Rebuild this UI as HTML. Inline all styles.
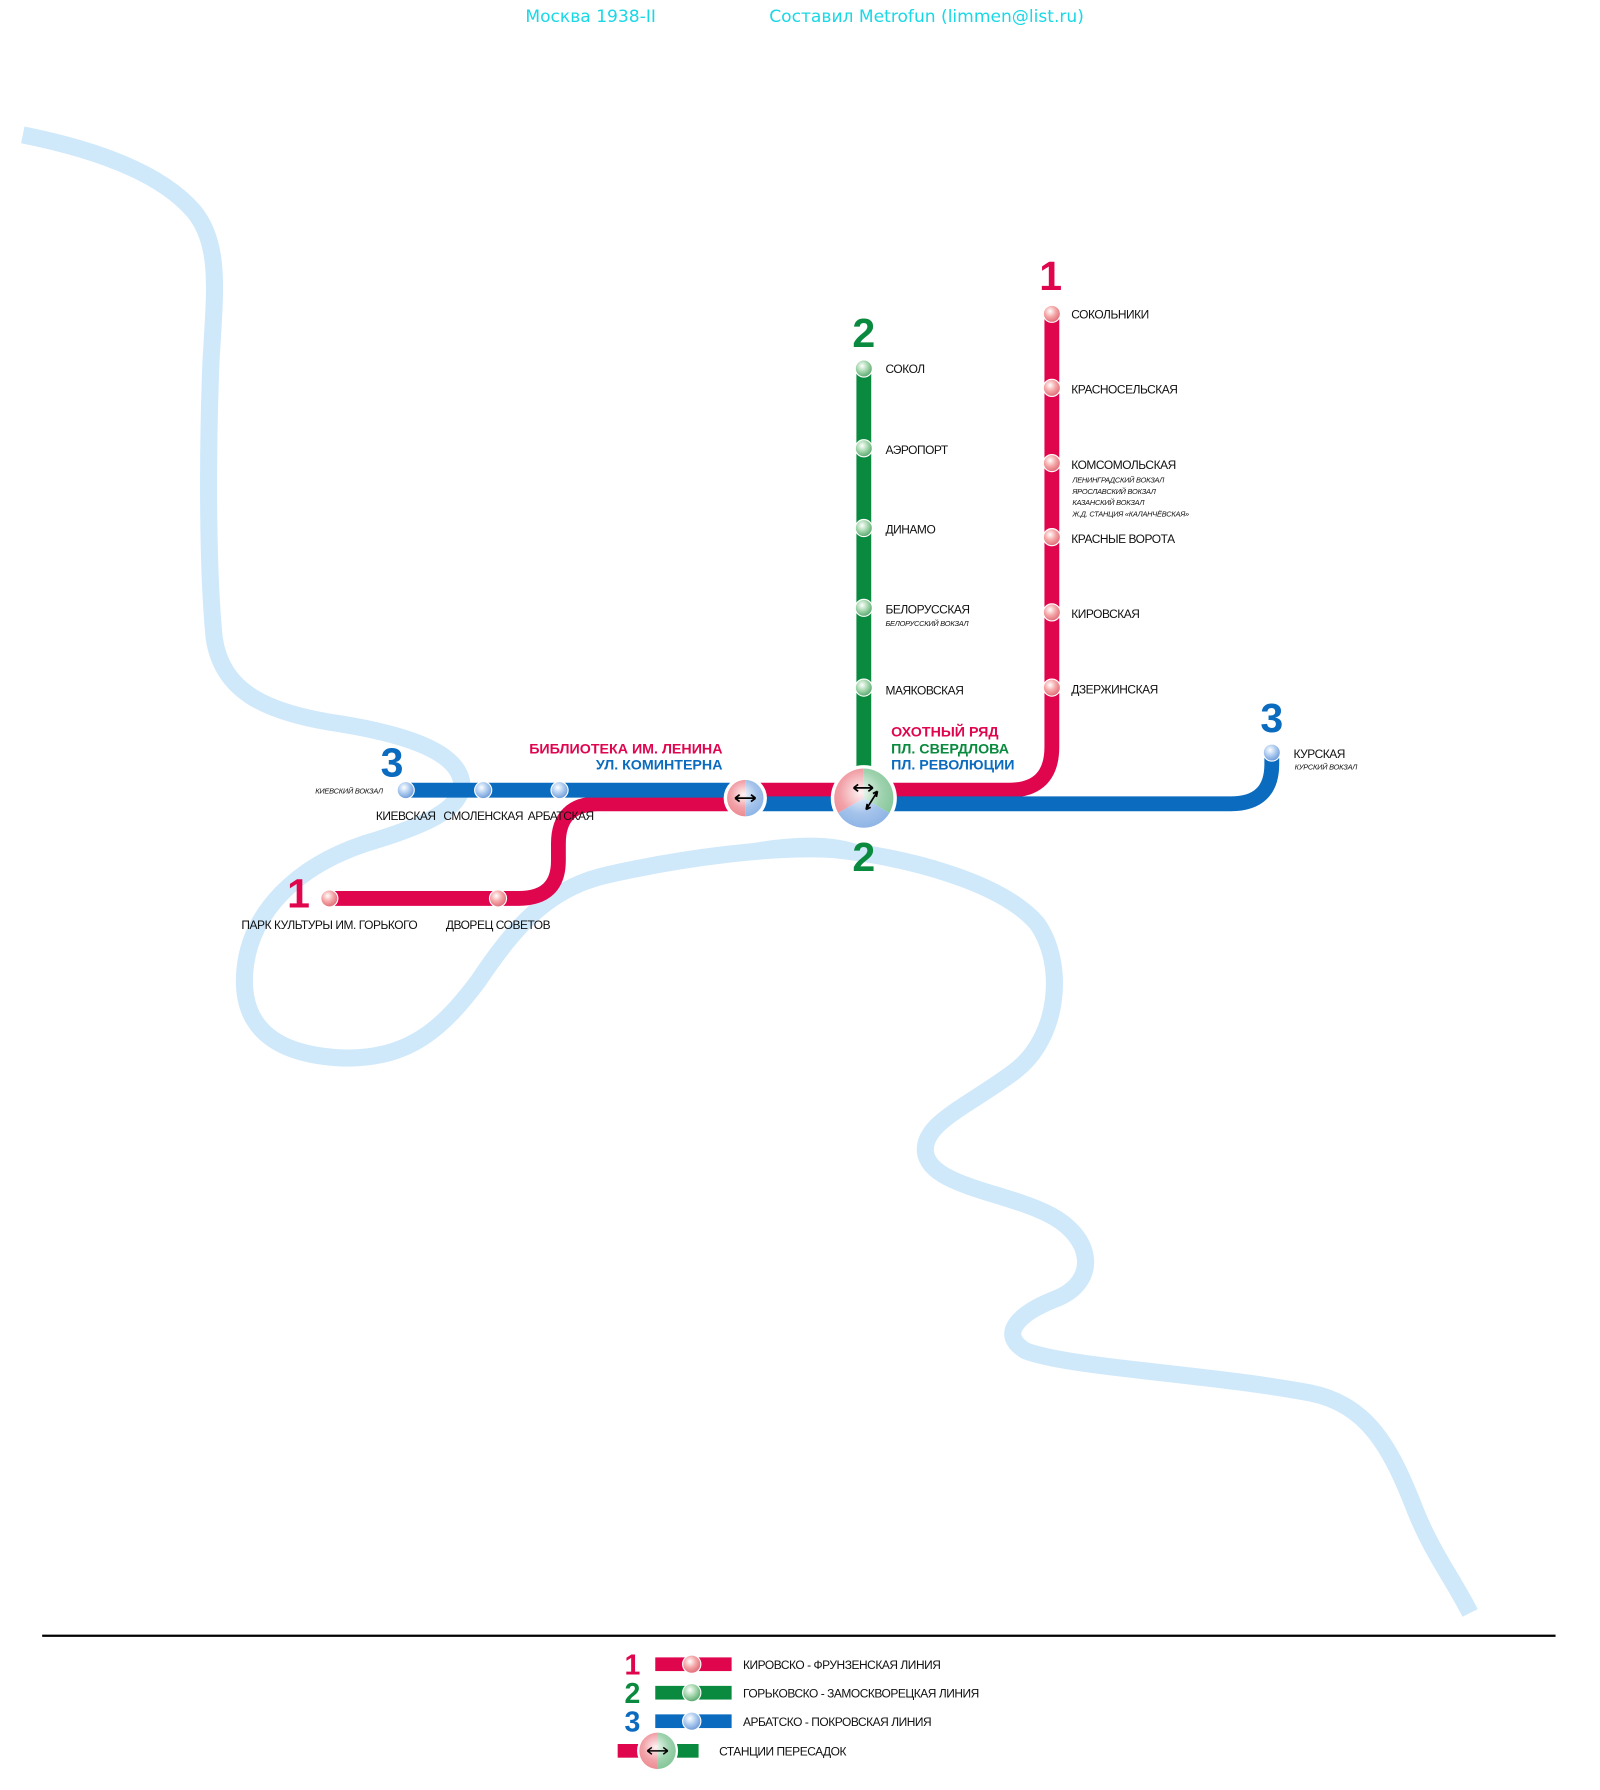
<!DOCTYPE html>
<html><head><meta charset="utf-8"><style>
html,body{margin:0;padding:0;background:#fff;}
svg{display:block}
.st{font-family:"Liberation Sans",sans-serif;font-size:10.5px;letter-spacing:-0.4px;fill:#111;}
.sub{font-family:"Liberation Sans",sans-serif;font-size:6.5px;letter-spacing:-0.2px;font-style:italic;fill:#111;}
.num{font-family:"Liberation Sans",sans-serif;font-weight:bold;font-size:36px;}
.ic{font-family:"Liberation Sans",sans-serif;font-weight:bold;font-size:12.5px;}
.ttl{font-family:"DejaVu Sans","Liberation Sans",sans-serif;font-size:15px;fill:#19d8e6;}
</style></head><body>
<svg width="1600" height="1790" viewBox="0 0 1404 1570" xmlns="http://www.w3.org/2000/svg">
<defs>
<radialGradient id="gr" cx="0.4" cy="0.35" r="0.65"><stop offset="0" stop-color="#fff"/><stop offset="0.5" stop-color="#f5a8a8"/><stop offset="1" stop-color="#e06c78"/></radialGradient>
<radialGradient id="gg" cx="0.4" cy="0.35" r="0.65"><stop offset="0" stop-color="#fff"/><stop offset="0.5" stop-color="#a8d8b0"/><stop offset="1" stop-color="#5aa870"/></radialGradient>
<radialGradient id="gb" cx="0.4" cy="0.35" r="0.65"><stop offset="0" stop-color="#fff"/><stop offset="0.5" stop-color="#b0cdf0"/><stop offset="1" stop-color="#6f9bd8"/></radialGradient>
<radialGradient id="hl" cx="0.45" cy="0.4" r="0.6"><stop offset="0" stop-color="#fff" stop-opacity="0.9"/><stop offset="0.6" stop-color="#fff" stop-opacity="0.2"/><stop offset="1" stop-color="#fff" stop-opacity="0"/></radialGradient>
</defs>
<text class="ttl" x="461" y="19">Москва 1938-II</text>
<text class="ttl" x="675" y="19">Составил Metrofun (limmen@list.ru)</text>

<!-- river -->
<g fill="none" stroke="#cfe9fb" stroke-width="15" stroke-linejoin="round" stroke-linecap="butt">
<path d="M20,118 C80,130 140,150 170,185 C195,215 188,260 185,320 C182,400 182,500 188,560 C195,605 230,625 300,635 C360,645 400,660 405,685 C408,710 370,725 320,740 C260,760 220,800 215,850 C210,900 240,925 300,928 C360,930 390,900 420,860 C450,815 480,780 530,768 C600,752 680,742 730,745 C800,752 880,775 910,810 C935,845 930,910 890,940 C850,970 810,985 812,1010 C815,1040 880,1045 920,1065 C960,1085 965,1125 925,1140 C895,1152 875,1170 900,1185 C940,1200 1060,1205 1150,1222 C1200,1232 1220,1270 1240,1320 C1255,1360 1275,1385 1290,1415"/>
<path d="M650,745 C700,735 740,736 760,748" stroke-width="7"/>
</g>

<!-- line 2 green -->
<path d="M758,323 V700" stroke="#0a8a3e" stroke-width="13" fill="none"/>
<!-- line 1 red -->
<path d="M923,275 V655 Q923,693 885,693 H654" stroke="#e0064e" stroke-width="13" fill="none"/>
<path d="M654,705 H525 Q490,705 490,740 V755 Q490,788 455,788 H289" stroke="#e0064e" stroke-width="13" fill="none"/>
<!-- line 3 blue -->
<path d="M356,693 H654" stroke="#0a6bbf" stroke-width="13" fill="none"/>
<path d="M654,705 H1080 Q1116,705 1116,670 V660" stroke="#0a6bbf" stroke-width="13" fill="none"/>

<!-- stations -->
<g stroke="#fff" stroke-width="1">
<circle cx="758" cy="323" r="7.5" fill="url(#gg)"/>
<circle cx="758" cy="393" r="7.5" fill="url(#gg)"/>
<circle cx="758" cy="463" r="7.5" fill="url(#gg)"/>
<circle cx="758" cy="533" r="7.5" fill="url(#gg)"/>
<circle cx="758" cy="603" r="7.5" fill="url(#gg)"/>
<circle cx="923" cy="275" r="7.5" fill="url(#gr)"/>
<circle cx="923" cy="340" r="7.5" fill="url(#gr)"/>
<circle cx="923" cy="406" r="7.5" fill="url(#gr)"/>
<circle cx="923" cy="471" r="7.5" fill="url(#gr)"/>
<circle cx="923" cy="537" r="7.5" fill="url(#gr)"/>
<circle cx="923" cy="603" r="7.5" fill="url(#gr)"/>
<circle cx="356" cy="693" r="7.5" fill="url(#gb)"/>
<circle cx="424" cy="693" r="7.5" fill="url(#gb)"/>
<circle cx="491" cy="693" r="7.5" fill="url(#gb)"/>
<circle cx="1116" cy="660" r="7.5" fill="url(#gb)"/>
<circle cx="289" cy="788" r="7.5" fill="url(#gr)"/>
<circle cx="437" cy="788" r="7.5" fill="url(#gr)"/>
</g>

<!-- small interchange -->
<circle cx="654" cy="700" r="19" fill="#fff"/>
<path d="M654,684 A16,16 0 0 0 654,716 Z" fill="#ee8a92"/>
<path d="M654,684 A16,16 0 0 1 654,716 Z" fill="#8fb5e6"/>
<circle cx="654" cy="700" r="16" fill="url(#hl)"/>
<path d="M645,700 H663 M645,700 l4,-3 M645,700 l4,3 M663,700 l-4,-3 M663,700 l-4,3" stroke="#000" stroke-width="1.5" fill="none"/>

<!-- big interchange -->
<circle cx="758" cy="700" r="29" fill="#fff"/>
<path d="M758,700 L758,674 A26,26 0 0 0 735.5,713 Z" fill="#ee8a92"/>
<path d="M758,700 L758,674 A26,26 0 0 1 780.5,713 Z" fill="#86c79a"/>
<path d="M758,700 L735.5,713 A26,26 0 0 0 780.5,713 Z" fill="#8fb5e6"/>
<circle cx="758" cy="700" r="26" fill="url(#hl)"/>
<path d="M749,691 H766 M749,691 l4,-3 M749,691 l4,3 M766,691 l-4,-3 M766,691 l-4,3 M770,694 L760,710 M770,694 l-1,5 M770,694 l-4,2 M760,710 l1,-5 M760,710 l4,-2" stroke="#000" stroke-width="1.5" fill="none"/>

<!-- numbers -->
<text class="num" x="758" y="304" text-anchor="middle" fill="#0a8a3e">2</text>
<text class="num" x="758" y="764" text-anchor="middle" fill="#0a8a3e">2</text>
<text class="num" x="922" y="254" text-anchor="middle" fill="#e0064e">1</text>
<text class="num" x="262" y="796" text-anchor="middle" fill="#e0064e">1</text>
<text class="num" x="1116" y="642" text-anchor="middle" fill="#0a6bbf">3</text>
<text class="num" x="344" y="681" text-anchor="middle" fill="#0a6bbf">3</text>

<!-- labels -->
<text class="st" x="777" y="327">СОКОЛ</text>
<text class="st" x="777" y="398">АЭРОПОРТ</text>
<text class="st" x="777" y="468">ДИНАМО</text>
<text class="st" x="777" y="538">БЕЛОРУССКАЯ</text>
<text class="sub" x="777" y="549">БЕЛОРУССКИЙ ВОКЗАЛ</text>
<text class="st" x="777" y="609">МАЯКОВСКАЯ</text>
<text class="st" x="940" y="279">СОКОЛЬНИКИ</text>
<text class="st" x="940" y="345">КРАСНОСЕЛЬСКАЯ</text>
<text class="st" x="940" y="411">КОМСОМОЛЬСКАЯ</text>
<text class="sub" x="941" y="423">ЛЕНИНГРАДСКИЙ ВОКЗАЛ</text>
<text class="sub" x="941" y="433">ЯРОСЛАВСКИЙ ВОКЗАЛ</text>
<text class="sub" x="941" y="443">КАЗАНСКИЙ ВОКЗАЛ</text>
<text class="sub" x="941" y="453">Ж.Д. СТАНЦИЯ «КАЛАНЧЁВСКАЯ»</text>
<text class="st" x="940" y="476">КРАСНЫЕ ВОРОТА</text>
<text class="st" x="940" y="542">КИРОВСКАЯ</text>
<text class="st" x="940" y="608">ДЗЕРЖИНСКАЯ</text>
<text class="st" x="1135" y="665">КУРСКАЯ</text>
<text class="sub" x="1136" y="675">КУРСКИЙ ВОКЗАЛ</text>
<text class="sub" x="336" y="696" text-anchor="end">КИЕВСКИЙ ВОКЗАЛ</text>
<text class="st" x="356" y="719" text-anchor="middle">КИЕВСКАЯ</text>
<text class="st" x="424" y="719" text-anchor="middle">СМОЛЕНСКАЯ</text>
<text class="st" x="492" y="719" text-anchor="middle">АРБАТСКАЯ</text>
<text class="st" x="289" y="815" text-anchor="middle">ПАРК КУЛЬТУРЫ ИМ. ГОРЬКОГО</text>
<text class="st" x="437" y="815" text-anchor="middle">ДВОРЕЦ СОВЕТОВ</text>

<text class="ic" x="634" y="661" text-anchor="end" fill="#e0064e">БИБЛИОТЕКА ИМ. ЛЕНИНА</text>
<text class="ic" x="634" y="675" text-anchor="end" fill="#0a6bbf">УЛ. КОМИНТЕРНА</text>
<text class="ic" x="782" y="646" fill="#e0064e">ОХОТНЫЙ РЯД</text>
<text class="ic" x="782" y="661" fill="#0a8a3e">ПЛ. СВЕРДЛОВА</text>
<text class="ic" x="782" y="675" fill="#0a6bbf">ПЛ. РЕВОЛЮЦИИ</text>

<!-- legend -->
<line x1="37" y1="1435" x2="1365" y2="1435" stroke="#000" stroke-width="2"/>
<text class="num" style="font-size:25px" x="555" y="1469" text-anchor="middle" fill="#e0064e">1</text>
<rect x="575" y="1454" width="67" height="12" fill="#e0064e"/>
<circle cx="607" cy="1460" r="8" fill="url(#gr)" stroke="#fff"/>
<text class="st" x="652" y="1464">КИРОВСКО - ФРУНЗЕНСКАЯ ЛИНИЯ</text>
<text class="num" style="font-size:25px" x="555" y="1494" text-anchor="middle" fill="#0a8a3e">2</text>
<rect x="575" y="1479" width="67" height="12" fill="#0a8a3e"/>
<circle cx="607" cy="1485" r="8" fill="url(#gg)" stroke="#fff"/>
<text class="st" x="652" y="1489">ГОРЬКОВСКО - ЗАМОСКВОРЕЦКАЯ ЛИНИЯ</text>
<text class="num" style="font-size:25px" x="555" y="1519" text-anchor="middle" fill="#0a6bbf">3</text>
<rect x="575" y="1504" width="67" height="12" fill="#0a6bbf"/>
<circle cx="607" cy="1510" r="8" fill="url(#gb)" stroke="#fff"/>
<text class="st" x="652" y="1514">АРБАТСКО - ПОКРОВСКАЯ ЛИНИЯ</text>
<rect x="542" y="1530" width="20" height="12" fill="#e0064e"/>
<rect x="594" y="1530" width="19" height="12" fill="#0a8a3e"/>
<circle cx="577" cy="1536" r="18" fill="#fff"/>
<path d="M577,1520 A16,16 0 0 0 577,1552 Z" fill="#ee8a92"/>
<path d="M577,1520 A16,16 0 0 1 577,1552 Z" fill="#86c79a"/>
<circle cx="577" cy="1536" r="16" fill="url(#hl)"/>
<path d="M568,1536 H586 M568,1536 l4,-3 M568,1536 l4,3 M586,1536 l-4,-3 M586,1536 l-4,3" stroke="#000" stroke-width="1.3" fill="none"/>
<text class="st" x="631" y="1540">СТАНЦИИ ПЕРЕСАДОК</text>
</svg>
</body></html>
